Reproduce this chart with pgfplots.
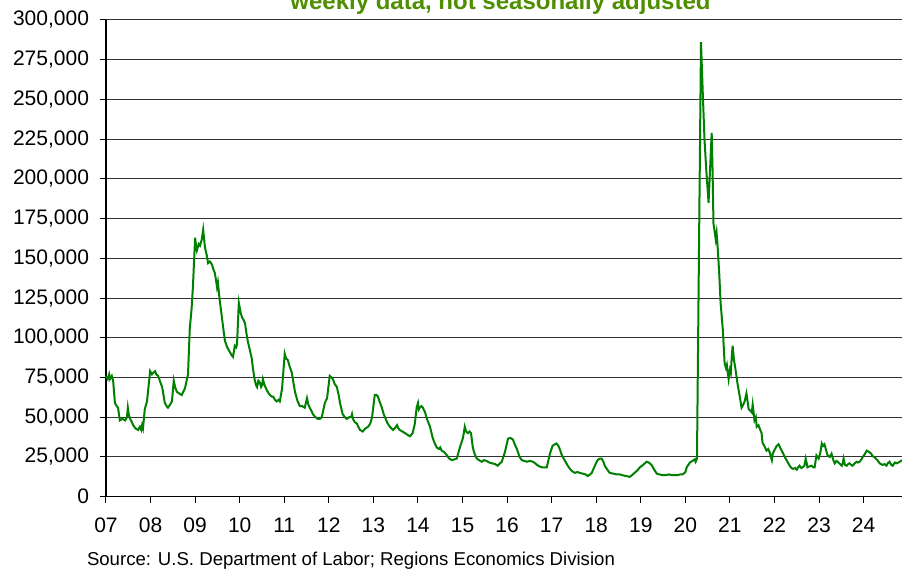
\documentclass[border=0pt]{standalone}
\usepackage{pgfplots}
\pgfplotsset{compat=1.18}
\usepackage{fontspec}
\setmainfont{Liberation Sans}
\definecolor{linegreen}{RGB}{0,128,0}
\definecolor{titlegreen}{RGB}{78,142,0}
\begin{document}
\begin{tikzpicture}
\useasboundingbox (0pt,0pt) rectangle (451pt,285.5pt);
\begin{axis}[
  at={(53pt,37.15pt)}, anchor=south west,
  scale only axis, width=398pt, height=238.35pt,
  xmin=2007, xmax=2024.86, ymin=0, ymax=300000,
  axis lines*=left,
  axis line style={black, line width=0.6pt},
  xtick={2007,...,2024},
  xticklabels={07,08,09,10,11,12,13,14,15,16,17,18,19,20,21,22,23,24},
  ytick={0,25000,50000,75000,100000,125000,150000,175000,200000,225000,250000,275000,300000},
  yticklabels={0,{25,000},{50,000},{75,000},{100,000},{125,000},{150,000},{175,000},{200,000},{225,000},{250,000},{275,000},{300,000}},
  scaled y ticks=false,
  tick align=outside, major tick length=3pt,
  tick style={black, line width=0.5pt},
  ymajorgrids, major grid style={black!80, line width=0.5pt},
  ticklabel style={font=\fontsize{10.5}{12}\selectfont},
  xticklabel style={yshift=-4pt},
  yticklabel style={xshift=-2pt},
  clip=false,
]
\addplot[linegreen, line width=1pt] coordinates {
(2007.00,76000)(2007.04,74000)(2007.07,77000)(2007.09,74000)(2007.13,76000)(2007.16,73000)
(2007.20,59000)(2007.24,57000)(2007.27,56000)(2007.31,48000)(2007.37,49000)(2007.43,48000)
(2007.47,50000)(2007.49,56000)(2007.51,52000)(2007.54,49000)(2007.58,47000)(2007.61,45000)
(2007.66,43000)(2007.72,42000)(2007.76,44000)(2007.79,42000)(2007.81,45000)(2007.83,43000)
(2007.87,55000)(2007.92,60000)(2007.99,79000)(2008.03,77000)(2008.06,78000)(2008.10,79000)
(2008.13,77000)(2008.17,76000)(2008.22,72000)(2008.26,69000)(2008.32,59000)(2008.36,57000)
(2008.39,56000)(2008.44,58000)(2008.48,60000)(2008.52,73000)(2008.55,69000)(2008.59,66000)
(2008.64,65000)(2008.70,64000)(2008.77,68000)(2008.84,77000)(2008.88,106000)(2008.92,118000)
(2008.95,132000)(2009.00,163000)(2009.02,158000)(2009.04,155000)(2009.08,159000)(2009.11,158000)
(2009.15,162000)(2009.18,168000)(2009.22,157000)(2009.26,152000)(2009.29,147000)(2009.33,148000)
(2009.38,146000)(2009.41,143000)(2009.44,141000)(2009.47,136000)(2009.49,132000)(2009.51,135000)
(2009.55,124000)(2009.60,113000)(2009.64,104000)(2009.67,98000)(2009.72,94000)(2009.78,91000)
(2009.82,89000)(2009.85,88000)(2009.89,95000)(2009.92,94000)(2009.94,96000)(2009.98,122000)
(2010.02,116000)(2010.05,113000)(2010.09,111000)(2010.12,109000)(2010.15,103000)(2010.18,98000)
(2010.23,92000)(2010.27,87000)(2010.30,80000)(2010.34,73000)(2010.37,70000)(2010.39,69000)
(2010.42,73000)(2010.45,72000)(2010.48,69000)(2010.50,70000)(2010.52,74000)(2010.56,70000)
(2010.61,67000)(2010.65,65000)(2010.68,64000)(2010.72,63000)(2010.75,63000)(2010.79,61000)
(2010.83,60000)(2010.87,61000)(2010.90,60000)(2010.95,68000)(2011.01,90000)(2011.04,87000)
(2011.08,86000)(2011.12,82000)(2011.17,78000)(2011.21,71000)(2011.24,66000)(2011.30,60000)
(2011.35,57000)(2011.40,57000)(2011.46,56000)(2011.51,62000)(2011.54,58000)(2011.57,56000)
(2011.61,54000)(2011.64,52000)(2011.70,50000)(2011.75,49000)(2011.80,49000)(2011.84,50000)
(2011.88,55000)(2011.91,59000)(2011.96,62000)(2012.02,76000)(2012.06,75000)(2012.09,74000)
(2012.13,71000)(2012.18,69000)(2012.22,64000)(2012.25,59000)(2012.31,52000)(2012.36,50000)
(2012.40,49000)(2012.46,50000)(2012.50,50000)(2012.52,52000)(2012.54,49000)(2012.58,47000)
(2012.63,46000)(2012.66,44000)(2012.70,42000)(2012.76,41000)(2012.82,43000)(2012.88,44000)
(2012.93,46000)(2012.97,50000)(2013.03,64000)(2013.07,64000)(2013.10,63000)(2013.15,59000)
(2013.19,56000)(2013.23,52000)(2013.26,50000)(2013.32,46000)(2013.37,44000)(2013.44,42000)
(2013.48,43000)(2013.53,45000)(2013.56,43000)(2013.59,42000)(2013.65,41000)(2013.71,40000)
(2013.76,39000)(2013.82,38000)(2013.88,40000)(2013.93,46000)(2013.97,56000)(2014.00,59000)
(2014.02,55000)(2014.04,56000)(2014.08,57000)(2014.11,56000)(2014.16,53000)(2014.20,49000)
(2014.27,44000)(2014.33,37000)(2014.37,34000)(2014.42,31000)(2014.47,30000)(2014.50,31000)
(2014.53,29000)(2014.59,28000)(2014.65,26000)(2014.70,24000)(2014.76,23000)(2014.82,23500)
(2014.87,24000)(2014.94,31000)(2015.01,37000)(2015.05,44000)(2015.08,41000)(2015.12,40000)
(2015.16,41000)(2015.19,40000)(2015.23,31000)(2015.27,27000)(2015.32,24000)(2015.37,23000)
(2015.43,22000)(2015.48,23000)(2015.54,22500)(2015.60,21500)(2015.66,21000)(2015.73,20500)
(2015.79,19500)(2015.84,21000)(2015.88,22000)(2015.95,28000)(2016.02,36500)(2016.07,37000)
(2016.13,36000)(2016.17,33000)(2016.22,30000)(2016.28,25000)(2016.33,23000)(2016.39,22500)
(2016.44,22000)(2016.51,22500)(2016.58,22000)(2016.63,21000)(2016.67,20000)(2016.73,19000)
(2016.78,18500)(2016.84,18500)(2016.89,18500)(2016.96,27000)(2017.02,32000)(2017.07,33000)
(2017.11,33500)(2017.15,32000)(2017.18,30000)(2017.23,26000)(2017.29,23000)(2017.35,20000)
(2017.41,17500)(2017.46,16000)(2017.52,15000)(2017.58,15500)(2017.63,15000)(2017.70,14500)
(2017.76,14000)(2017.81,13000)(2017.86,14000)(2017.90,15000)(2017.97,19500)(2018.03,23000)
(2018.08,24000)(2018.12,24000)(2018.16,22000)(2018.19,19500)(2018.25,17000)(2018.30,15000)
(2018.38,14500)(2018.46,14000)(2018.53,14000)(2018.59,13500)(2018.67,13000)(2018.75,12500)
(2018.80,13500)(2018.86,15000)(2018.92,16500)(2018.98,18500)(2019.05,20000)(2019.13,22000)
(2019.18,21500)(2019.24,20000)(2019.30,17000)(2019.36,14500)(2019.42,14000)(2019.49,13500)
(2019.55,13500)(2019.62,14000)(2019.72,13500)(2019.82,13500)(2019.88,14000)(2019.94,14000)
(2020.00,15500)(2020.03,18500)(2020.10,21500)(2020.16,22500)(2020.21,23500)(2020.23,22000)
(2020.26,24000)(2020.35,286000)(2020.39,254000)(2020.43,224000)(2020.47,205000)(2020.52,185000)
(2020.56,210000)(2020.59,229000)(2020.61,205000)(2020.63,172000)(2020.66,166000)(2020.68,162000)
(2020.70,166000)(2020.72,159000)(2020.76,140000)(2020.79,122000)(2020.84,105000)(2020.88,84000)
(2020.91,81000)(2020.93,83000)(2020.97,74000)(2021.00,80000)(2021.02,78000)(2021.04,88000)
(2021.06,95000)(2021.09,86000)(2021.12,81000)(2021.17,71000)(2021.22,63000)(2021.26,56000)
(2021.30,58000)(2021.33,60000)(2021.37,65000)(2021.40,59000)(2021.42,55000)(2021.46,54000)
(2021.49,53000)(2021.51,58000)(2021.55,48000)(2021.58,50000)(2021.60,44000)(2021.64,45000)
(2021.68,42000)(2021.71,40000)(2021.73,34000)(2021.77,32000)(2021.82,29000)(2021.86,30000)
(2021.89,28000)(2021.94,23000)(2021.96,27000)(2022.01,30000)(2022.05,32000)(2022.09,33000)
(2022.11,32000)(2022.14,30000)(2022.18,28000)(2022.23,25000)(2022.27,23000)(2022.31,21000)
(2022.34,19500)(2022.38,18000)(2022.41,17500)(2022.46,18000)(2022.50,17000)(2022.53,18500)
(2022.56,19500)(2022.60,18000)(2022.63,18500)(2022.67,19500)(2022.70,24000)(2022.74,18500)
(2022.78,19000)(2022.83,19500)(2022.87,18500)(2022.90,18500)(2022.94,26000)(2022.99,24000)
(2023.03,28000)(2023.06,33500)(2023.09,32000)(2023.12,33000)(2023.16,29000)(2023.19,26000)
(2023.24,25000)(2023.28,27000)(2023.32,23000)(2023.35,21000)(2023.39,22500)(2023.42,22000)
(2023.47,20500)(2023.51,19500)(2023.53,21000)(2023.55,24000)(2023.58,20000)(2023.62,19500)
(2023.65,20500)(2023.68,21000)(2023.72,20000)(2023.75,19500)(2023.80,21000)(2023.84,22000)
(2023.87,21500)(2023.91,22000)(2023.95,23500)(2023.98,25000)(2024.03,27000)(2024.07,29000)
(2024.10,28500)(2024.13,28000)(2024.17,27000)(2024.20,25500)(2024.24,25000)(2024.29,23500)
(2024.32,22500)(2024.36,21000)(2024.39,20500)(2024.42,20000)(2024.47,20500)(2024.51,19500)
(2024.54,21000)(2024.58,22000)(2024.62,20000)(2024.65,19500)(2024.70,21500)(2024.74,21000)
(2024.78,21500)(2024.81,22000)(2024.86,23000)
};
\end{axis}
\node[anchor=base, text=titlegreen, font=\bfseries\fontsize{12}{14}\selectfont] at (250.25pt,280.85pt) {weekly data, not seasonally adjusted};
\node[anchor=base west, inner sep=0pt, font=\fontsize{9.3}{11}\selectfont] at (43.3pt,2.65pt) {Source: U.S. Department of Labor; Regions Economics Division};
\end{tikzpicture}
\end{document}
